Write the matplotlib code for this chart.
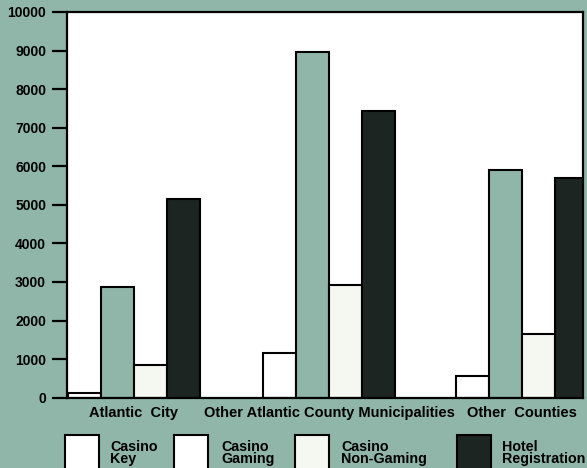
import numpy as np
from matplotlib import pyplot as plt
from matplotlib.patches import Rectangle

plt.rcParams['font.family'] = ['Liberation Sans', 'DejaVu Sans']
plt.rcParams['font.weight'] = 'bold'

# data
groups = ["Atlantic  City", "Other Atlantic County Municipalities", "Other  Counties"]
series = ["Casino\nKey", "Casino\nGaming", "Casino\nNon-Gaming", "Hotel\nRegistration"]
casino_key = [120, 1170, 550]
casino_gaming = [2880, 8950, 5900]
casino_nongaming = [840, 2920, 1660]
hotel_reg = [5160, 7430, 5700]
yticks = [0, 1000, 2000, 3000, 4000, 5000, 6000, 7000, 8000, 9000, 10000]

teal = "#8fb6a9"
dark = "#1d2523"
offwhite = "#f5f8f0"
bar_colors = ["white", teal, offwhite, dark]
legend_colors = ["white", "white", offwhite, dark]

fig = plt.figure(figsize=(5.87, 4.68), dpi=100, facecolor=teal)
ax = fig.add_axes([0.1141, 0.1502, 0.8791, 0.8242])
ax.set_facecolor("white")

starts = np.array([0.03, 5.94, 11.79])
values = [casino_key, casino_gaming, casino_nongaming, hotel_reg]
for i, vals in enumerate(values):
    ax.bar(starts + i, vals, width=1.0, align='edge', color=bar_colors[i],
           edgecolor="black", linewidth=1.5, zorder=2)

ax.set_xlim(0, 15.64)
ax.set_ylim(0, 10000)
ax.set_xticks(starts + 2)
ax.set_xticklabels(groups, fontsize=10.5, fontweight='bold')
ax.tick_params(axis='x', length=0, pad=6)
ax.set_yticks(yticks)
ax.set_yticklabels([str(v) for v in yticks], fontsize=10, fontweight='bold')
ax.tick_params(axis='y', length=11, width=1.6, pad=4, direction='out')
for s in ax.spines.values():
    s.set_linewidth(1.6)
    s.set_color("black")

# legend drawn along the bottom
box_x = [65, 174, 295, 457]
text_x = [110, 221, 341, 502]
W, H = 587.0, 468.0
for i in range(4):
    fig.add_artist(Rectangle((box_x[i] / W, (H - 468 - 4) / H), 34 / W, 37 / H,
                             transform=fig.transFigure, facecolor=legend_colors[i],
                             edgecolor="black", linewidth=1.5))
    fig.text(text_x[i] / W, (H - 440) / H, series[i], fontsize=10.3, fontweight='bold',
             va='top', ha='left', linespacing=0.82)

fig.savefig("out.png", dpi=100, facecolor=teal)
